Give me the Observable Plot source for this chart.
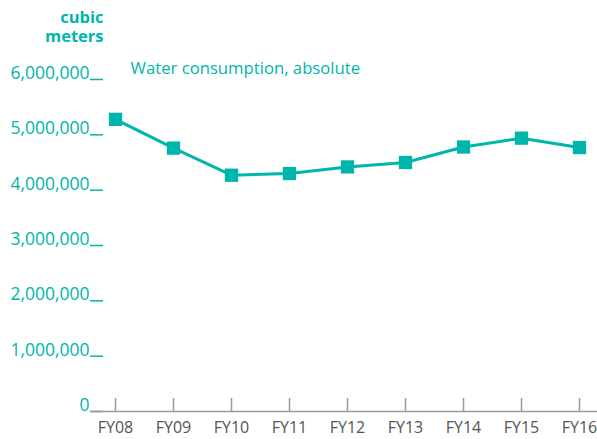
<!DOCTYPE html>
<html>
<head>
<meta charset="utf-8">
<script src="https://cdn.jsdelivr.net/npm/d3@7"></script>
<script src="https://cdn.jsdelivr.net/npm/@observablehq/plot@0.6"></script>
<style>
  html, body { margin: 0; padding: 0; background: #fff; }
  #chart svg { display: block; }
</style>
</head>
<body>
<div id="chart"></div>
<script>
const years = ["FY08","FY09","FY10","FY11","FY12","FY13","FY14","FY15","FY16"];
const consumption = [5280000, 4760000, 4270000, 4300000, 4420000, 4500000, 4780000, 4940000, 4770000];
const yTicks = [0, 1000000, 2000000, 3000000, 4000000, 5000000, 6000000];
const unitLabel = "cubic\nmeters";
const seriesLabel = "Water consumption, absolute";

const data = years.map((fy, i) => ({fy, value: consumption[i]}));
const teal = "#00b5ab";
const font = "'Open Sans', sans-serif";

const chart = Plot.plot({
  width: 597,
  height: 439,
  marginTop: 79,
  marginBottom: 28,
  marginLeft: 103,
  marginRight: 0,
  style: {fontFamily: font, background: "#fff"},
  x: {type: "point", domain: years, range: [115, 579], padding: 0},
  y: {domain: [0, 6000000]},
  marks: [
    Plot.axisY({
      ticks: yTicks,
      tickSize: 0,
      tickPadding: 14,
      fill: teal,
      fontSize: 17.5,
      dy: -6,
      tickFormat: d3.format(","),
      label: null
    }),
    Plot.ruleY(yTicks, {stroke: teal, strokeWidth: 1.5, insetLeft: -13, insetRight: 494}),
    Plot.ruleY([0], {stroke: "#9a9a9a", strokeWidth: 1.5, insetLeft: -13}),
    Plot.ruleX(years, {x: d => d, stroke: "#9a9a9a", strokeWidth: 1.5, insetTop: 319}),
    Plot.axisX({tickSize: 0, tickPadding: 10, fill: "#555", fontSize: 16, label: null}),
    Plot.line(data, {x: "fy", y: "value", stroke: teal, strokeWidth: 3}),
    Plot.dot(data, {x: "fy", y: "value", symbol: "square", r: 7.5, fill: teal, stroke: "none"}),
    Plot.text([unitLabel], {frameAnchor: "top-left", textAnchor: "end", lineAnchor: "middle", lineHeight: 1.12, dy: -53, fill: teal, fontSize: 16.5, fontWeight: "bold"}),
    Plot.text([seriesLabel], {frameAnchor: "top-left", textAnchor: "start", lineAnchor: "middle", dx: 27, dy: -10.5, fill: teal, fontSize: 16.7})
  ]
});
document.getElementById("chart").appendChild(chart);
</script>
</body>
</html>
